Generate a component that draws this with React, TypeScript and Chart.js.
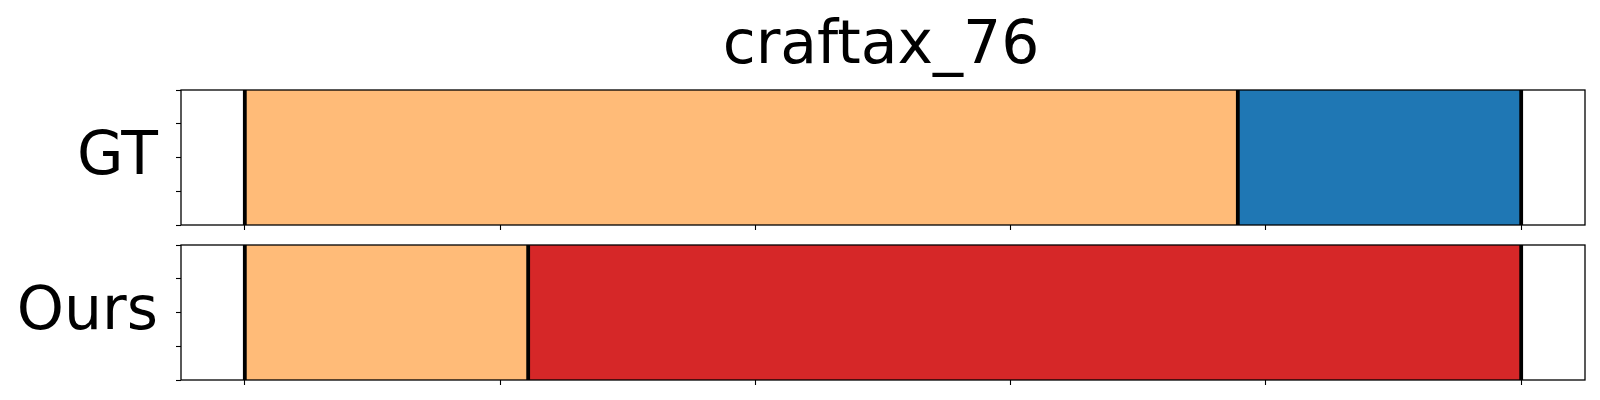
import React, { useEffect, useRef } from "react";
import { Chart, registerables } from "chart.js";

Chart.register(...registerables);

// ---- data ----
const chartTitle = "craftax_76";
const rowLabels = ["GT", "Ours"];
const xTicks = [0, 20, 40, 60, 80, 100];
const yTicks = [0, 0.25, 0.5, 0.75, 1];
const gtBoundaries = [0, 77.8, 100];
const oursBoundaries = [0, 22.2, 100];
const gtSegmentColors = ["#ffbb78", "#1f77b4"];
const oursSegmentColors = ["#ffbb78", "#d62728"];

const FONT = "'DejaVu Sans', sans-serif";

const framePlugin = {
  id: "frame",
  afterDatasetsDraw(chart: any) {
    const { ctx, chartArea: a } = chart;
    ctx.save();
    ctx.strokeStyle = "#000";
    ctx.lineWidth = 1.3;
    ctx.strokeRect(a.left, a.top, a.right - a.left, a.bottom - a.top);
    ctx.restore();
  },
};

const labelPlugin = {
  id: "rowLabel",
  afterDraw(chart: any, _args: any, opts: any) {
    const { ctx, chartArea: a } = chart;
    ctx.save();
    ctx.fillStyle = "#000";
    ctx.textBaseline = "alphabetic";
    ctx.font = `${opts.size}px ${FONT}`;
    ctx.textAlign = "right";
    ctx.fillText(opts.text, a.left - opts.gap, (a.top + a.bottom) / 2 + opts.baselineOffset);
    if (opts.title) {
      ctx.textAlign = "center";
      ctx.font = `${opts.titleSize}px ${FONT}`;
      ctx.fillText(opts.title, (a.left + a.right) / 2 - 2, a.top - opts.titleGap);
    }
    ctx.restore();
  },
};

function buildConfig(label: string, bounds: number[], colors: string[], title: string | null, padding: any) {
  const datasets: any[] = [];
  for (let i = 0; i < bounds.length - 1; i++) {
    datasets.push({
      type: "bar",
      data: [{ x: [bounds[i], bounds[i + 1]], y: 0.5 }],
      backgroundColor: colors[i],
      borderWidth: 0,
      barThickness: "flex",
      barPercentage: 1,
      categoryPercentage: 1,
      stack: "row",
      order: 2,
    });
  }
  for (const b of bounds) {
    datasets.push({
      type: "line",
      data: [
        { x: b, y: 0 },
        { x: b, y: 1 },
      ],
      borderColor: "#000",
      borderWidth: 3.8,
      pointRadius: 0,
      fill: false,
      order: 1,
    });
  }
  const tickGrid = {
    offset: false,
    drawOnChartArea: false,
    drawTicks: true,
    tickLength: 5,
    tickColor: "#000",
    tickWidth: 1.1,
  };
  return {
    type: "bar",
    data: { datasets },
    plugins: [framePlugin, labelPlugin],
    options: {
      indexAxis: "y",
      animation: false,
      responsive: false,
      devicePixelRatio: 1,
      layout: { padding },
      plugins: {
        legend: { display: false },
        tooltip: { enabled: false },
        title: { display: false },
        rowLabel: {
          text: label,
          size: 60,
          gap: 23,
          baselineOffset: 16.5,
          title,
          titleSize: 60,
          titleGap: 27,
        },
      },
      scales: {
        x: {
          type: "linear",
          position: "bottom",
          offset: false,
          stacked: false,
          min: -5,
          max: 105,
          afterBuildTicks: (s: any) => {
            s.ticks = xTicks.map((v) => ({ value: v }));
          },
          afterFit: (s: any) => {
            s.height = 5;
          },
          ticks: { display: false },
          grid: tickGrid,
          border: { display: false },
        },
        y: {
          type: "linear",
          position: "left",
          offset: false,
          min: 0,
          max: 1,
          afterBuildTicks: (s: any) => {
            s.ticks = yTicks.map((v) => ({ value: v }));
          },
          afterFit: (s: any) => {
            s.width = 5;
          },
          ticks: { display: false },
          grid: tickGrid,
          border: { display: false },
        },
      },
    },
  };
}

function Panel(props: {
  label: string;
  bounds: number[];
  colors: string[];
  title: string | null;
  top: number;
  height: number;
  padding: any;
}) {
  const ref = useRef<HTMLCanvasElement | null>(null);
  useEffect(() => {
    if (!ref.current) return;
    const chart = new Chart(
      ref.current,
      buildConfig(props.label, props.bounds, props.colors, props.title, props.padding) as any
    );
    return () => chart.destroy();
  }, []);
  return (
    <canvas
      ref={ref}
      width={1600}
      height={props.height}
      style={{ position: "absolute", left: 0, top: props.top, width: 1600, height: props.height }}
    />
  );
}

export default function App() {
  return (
    <div style={{ position: "fixed", left: 0, top: 0, width: 1600, height: 400, background: "#fff" }}>
      <Panel
        label={rowLabels[0]}
        bounds={gtBoundaries}
        colors={gtSegmentColors}
        title={chartTitle}
        top={0}
        height={240}
        padding={{ left: 176, right: 15, top: 90, bottom: 10 }}
      />
      <Panel
        label={rowLabels[1]}
        bounds={oursBoundaries}
        colors={oursSegmentColors}
        title={null}
        top={240}
        height={160}
        padding={{ left: 176, right: 15, top: 5, bottom: 15 }}
      />
    </div>
  );
}
